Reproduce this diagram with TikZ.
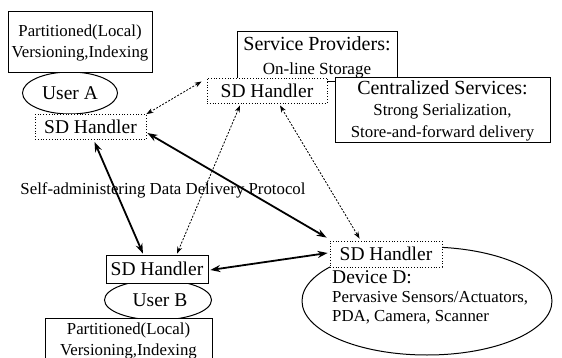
\documentclass[tikz,border=0pt]{standalone}
\usepackage{fontspec}
\setmainfont{Liberation Serif}
\usetikzlibrary{shapes.geometric,arrows.meta,calc}
\tikzset{
  big/.style={font=\fontsize{19.5}{22}\selectfont},
  small/.style={font=\fontsize{16.8}{21}\selectfont},
  solidbox/.style={draw, line width=1pt, fill=white, inner sep=0pt},
  sdbox/.style={draw, line width=0.8pt, dotted, fill=white, inner sep=0pt, big, minimum height=25pt},
  oval/.style={ellipse, draw, line width=1pt, inner sep=0pt},
  weak/.style={line width=0.8pt, dash pattern=on 2pt off 1.5pt, {Stealth[length=7pt,width=5pt]}-{Stealth[length=7pt,width=5pt]}},
  strong/.style={line width=1.8pt, {Stealth[length=10pt,width=7pt]}-{Stealth[length=10pt,width=7pt]}}
}
\begin{document}
\begin{tikzpicture}[x=1pt,y=-1pt]
\useasboundingbox (0,0) rectangle (562,358);
% User A
\node[oval, minimum width=95pt, minimum height=42pt, big] (userA) at (70,93) {User A\hspace{5pt}};
\node[solidbox, minimum width=144pt, minimum height=61pt, small, align=center] (boxA) at (80,42.5) {Partitioned(Local)\\Versioning,Indexing};
\node[sdbox, minimum width=111pt] (sdA) at (90.5,127) {SD Handler};
% service providers
\node[solidbox, minimum width=160pt, minimum height=50pt, align=center, font=\fontsize{17}{24}\selectfont] (spBox) at (317,57)
  {{\fontsize{20}{24}\selectfont Service Providers:}\\On-line Storage};
\node[sdbox, minimum width=120pt] (sdS) at (267,90.5) {SD Handler};
\node[solidbox, minimum width=215pt, minimum height=65pt, align=center, font=\fontsize{16.8}{21.5}\selectfont] (central) at (442.5,110.5)
  {{\fontsize{20}{21.5}\selectfont Centralized Services:}\\Strong Serialization,\\Store-and-forward delivery};
% protocol label
\node[small] (proto) at (163,190) {Self-administering Data Delivery Protocol};
% User B
\node[oval, minimum width=107pt, minimum height=40pt, big] (userB) at (158,300) {\hspace{4pt}User B};
\node[solidbox, minimum width=167pt, minimum height=44pt, small, align=center, anchor=north] (boxB) at (128.5,318) {Partitioned(Local)\\Versioning,Indexing};
\node[sdbox, minimum width=102pt, minimum height=28pt, solid, line width=0.7pt] (sdB) at (157,269) {SD Handler};
% Device D
\node[oval, minimum width=250pt, minimum height=108pt] (devD) at (427,301) {};
\node[sdbox, minimum width=112pt, minimum height=26pt] (sdD) at (386,254) {SD Handler};
\node[anchor=west, inner sep=0pt, align=left, font=\fontsize{16.8}{19}\selectfont] (devText) at (332,297)
  {{\fontsize{19.5}{19}\selectfont Device D:}\\Pervasive Sensors/Actuators,\\PDA, Camera, Scanner};
% connectors
\draw[weak] (sdA.north east) -- ($(sdS.west)+(-5,-9)$);
\draw[weak] ($(sdS.south)+(-27,2)$) -- ($(sdB.north)+(20,-1)$);
\draw[weak] ($(sdS.south)+(13,2)$) -- ($(sdD.north west)+(30,-2)$);
\draw[strong] ($(sdA.east)+(1,6)$) -- ($(sdD.north west)+(-3,-3)$);
\draw[strong] ($(sdA.south)+(4,2)$) -- ($(sdB.north)+(-14,-1)$);
\draw[strong] ($(sdB.east)+(2,1)$) -- ($(sdD.west)+(-2,-1)$);
\end{tikzpicture}
\end{document}
